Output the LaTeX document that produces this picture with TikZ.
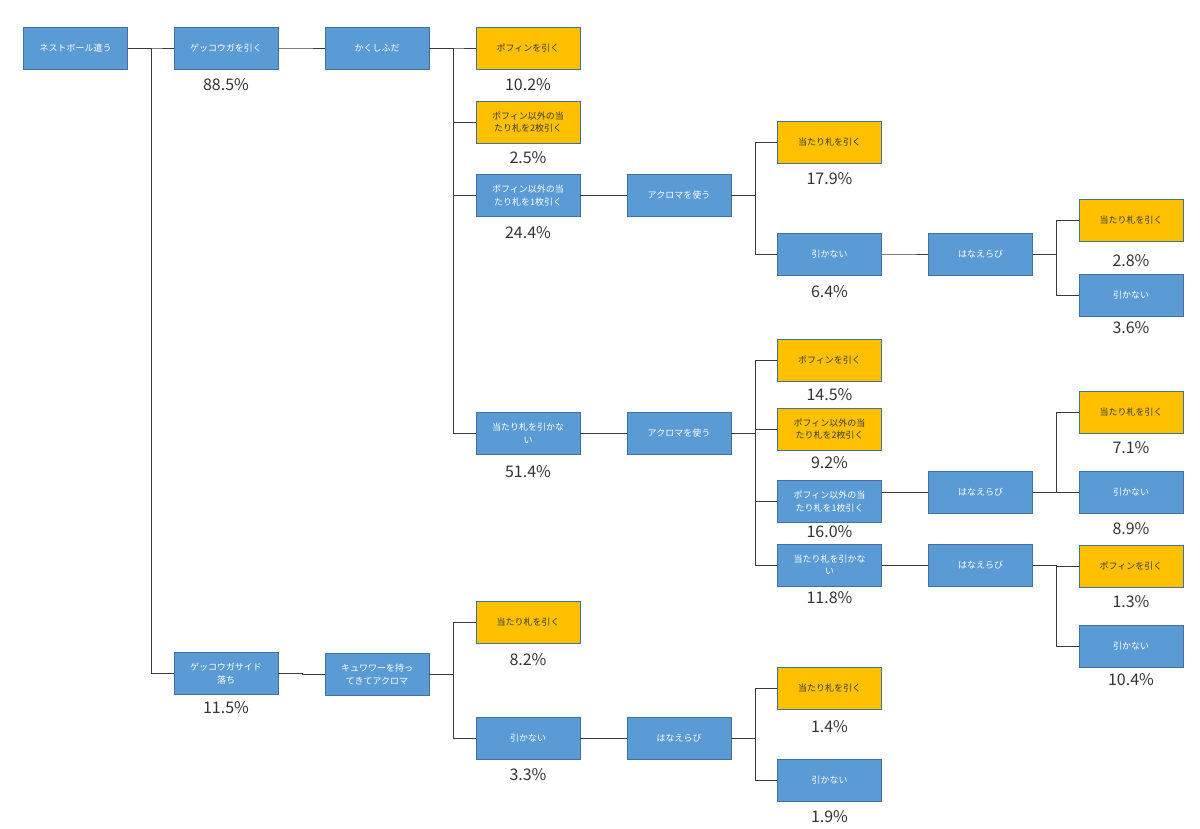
\documentclass[tikz,border=0pt]{standalone}
\usepackage{fontspec}
\usepackage{xcolor}
\usepackage{tikz}
\usetikzlibrary{positioning,calc}
\setmainfont{Noto Sans CJK JP}
\definecolor{boxblue}{HTML}{5B9BD5}
\definecolor{boxedge}{HTML}{41719C}
\definecolor{hitfill}{HTML}{FFC000}
\definecolor{linkgray}{HTML}{3A3A3A}

\begin{document}
\begin{tikzpicture}[
  x=1pt, y=-1pt,
  blk/.style={draw=boxedge, line width=0.9pt, fill=boxblue, minimum width=104pt, minimum height=42pt, inner sep=0pt, align=center, text=white, font=\fontsize{9}{12.5}\selectfont},
  hit/.style={blk, fill=hitfill, text=linkgray},
  pct/.style={inner sep=0pt, text=black!80, font=\fontsize{16}{18}\selectfont},
  link/.style={draw=linkgray, line width=0.9pt},
  elbow/.style={to path={-- ++(23.5,0) |- (\tikztotarget)}}
]
  \useasboundingbox (0,0) rectangle (1200,828);

  \node[blk] (n1) at (75.5,48) {ネストボール遣う};
  \node[blk] (n2) at (226,48) {ゲッコウガを引く};
  \node[blk] (n3) at (377,48) {かくしふだ};
  \node[hit] (n4) at (528,48) {ポフィンを引く};
  \node[hit] (n5) at (528,122) {ポフィン以外の当\\たり札を2枚引く};
  \node[blk] (n6) at (528,195.5) {ポフィン以外の当\\たり札を1枚引く};
  \node[blk] (n7) at (679,195.5) {アクロマを使う};
  \node[hit] (n8) at (829.5,142) {当たり札を引く};
  \node[blk] (n9) at (829.5,254) {引かない};
  \node[blk] (n10) at (980.5,254) {はなえらび};
  \node[hit] (n11) at (1131,220.5) {当たり札を引く};
  \node[blk] (n12) at (1131,295.5) {引かない};
  \node[blk] (n13) at (528,433.5) {当たり札を引かな\\い};
  \node[blk] (n14) at (679,433.5) {アクロマを使う};
  \node[hit] (n15) at (829.5,360) {ポフィンを引く};
  \node[hit] (n16) at (829.5,429) {ポフィン以外の当\\たり札を2枚引く};
  \node[blk] (n17) at (829.5,501.5) {ポフィン以外の当\\たり札を1枚引く};
  \node[blk] (n18) at (829.5,565) {当たり札を引かな\\い};
  \node[blk] (n19) at (980.5,492) {はなえらび};
  \node[hit] (n20) at (1131,412.5) {当たり札を引く};
  \node[blk] (n21) at (1131,492.5) {引かない};
  \node[blk] (n22) at (980.5,565.5) {はなえらび};
  \node[hit] (n23) at (1131,566) {ポフィンを引く};
  \node[blk] (n24) at (1131,646) {引かない};
  \node[blk] (n25) at (226,673.5) {ゲッコウガサイド\\落ち};
  \node[blk] (n26) at (377,674.5) {キュワワーを持っ\\てきてアクロマ};
  \node[hit] (n27) at (528,622) {当たり札を引く};
  \node[blk] (n28) at (528,738) {引かない};
  \node[blk] (n29) at (679,738.5) {はなえらび};
  \node[hit] (n30) at (829.5,688.5) {当たり札を引く};
  \node[blk] (n31) at (829.5,780.5) {引かない};

  % probabilities
  \node[pct] (t2) at (226,85) {88.5\%};
  \node[pct] (t4) at (528,85) {10.2\%};
  \node[pct] (t5) at (528,158) {2.5\%};
  \node[pct] (t6) at (528,233) {24.4\%};
  \node[pct] (t8) at (829.5,179) {17.9\%};
  \node[pct] (t9) at (829.5,292) {6.4\%};
  \node[pct] (t11) at (1131,261) {2.8\%};
  \node[pct] (t12) at (1131,328) {3.6\%};
  \node[pct] (t13) at (528,472) {51.4\%};
  \node[pct] (t15) at (829.5,395) {14.5\%};
  \node[pct] (t16) at (829.5,463) {9.2\%};
  \node[pct] (t17) at (829.5,532) {16.0\%};
  \node[pct] (t18) at (829.5,598) {11.8\%};
  \node[pct] (t20) at (1131,448) {7.1\%};
  \node[pct] (t21) at (1131,529) {8.9\%};
  \node[pct] (t23) at (1131,602) {1.3\%};
  \node[pct] (t24) at (1131,680) {10.4\%};
  \node[pct] (t25) at (226,708) {11.5\%};
  \node[pct] (t27) at (528,660) {8.2\%};
  \node[pct] (t28) at (528,775) {3.3\%};
  \node[pct] (t30) at (829.5,727) {1.4\%};
  \node[pct] (t31) at (829.5,817) {1.9\%};

  \draw[link] (n1.east) to[elbow] (n2.west);
  \draw[link] (n1.east) to[elbow] (n25.west);
  \draw[link] (n2.east) to[elbow] (n3.west);
  \draw[link] (n3.east) to[elbow] (n4.west);
  \draw[link] (n3.east) to[elbow] (n5.west);
  \draw[link] (n3.east) to[elbow] (n6.west);
  \draw[link] (n3.east) to[elbow] (n13.west);
  \draw[link] (n6.east) to[elbow] (n7.west);
  \draw[link] (n7.east) to[elbow] (n8.west);
  \draw[link] (n7.east) to[elbow] (n9.west);
  \draw[link] (n9.east) to[elbow] (n10.west);
  \draw[link] (n10.east) to[elbow] (n11.west);
  \draw[link] (n10.east) to[elbow] (n12.west);
  \draw[link] (n13.east) to[elbow] (n14.west);
  \draw[link] (n14.east) to[elbow] (n15.west);
  \draw[link] (n14.east) to[elbow] (n16.west);
  \draw[link] (n14.east) to[elbow] (n17.west);
  \draw[link] (n14.east) to[elbow] (n18.west);
  \draw[link] (n17.east |- n19.west) -- (n19.west);
  \draw[link] (n19.east) to[elbow] (n20.west);
  \draw[link] (n19.east) to[elbow] (n21.west);
  \draw[link] (n18.east) to[elbow] (n22.west);
  \draw[link] (n22.east) to[elbow] (n23.west);
  \draw[link] (n22.east) to[elbow] (n24.west);
  \draw[link] (n25.east) to[elbow] (n26.west);
  \draw[link] (n26.east) to[elbow] (n27.west);
  \draw[link] (n26.east) to[elbow] (n28.west);
  \draw[link] (n28.east) to[elbow] (n29.west);
  \draw[link] (n29.east) to[elbow] (n30.west);
  \draw[link] (n29.east) to[elbow] (n31.west);
\end{tikzpicture}
\end{document}
